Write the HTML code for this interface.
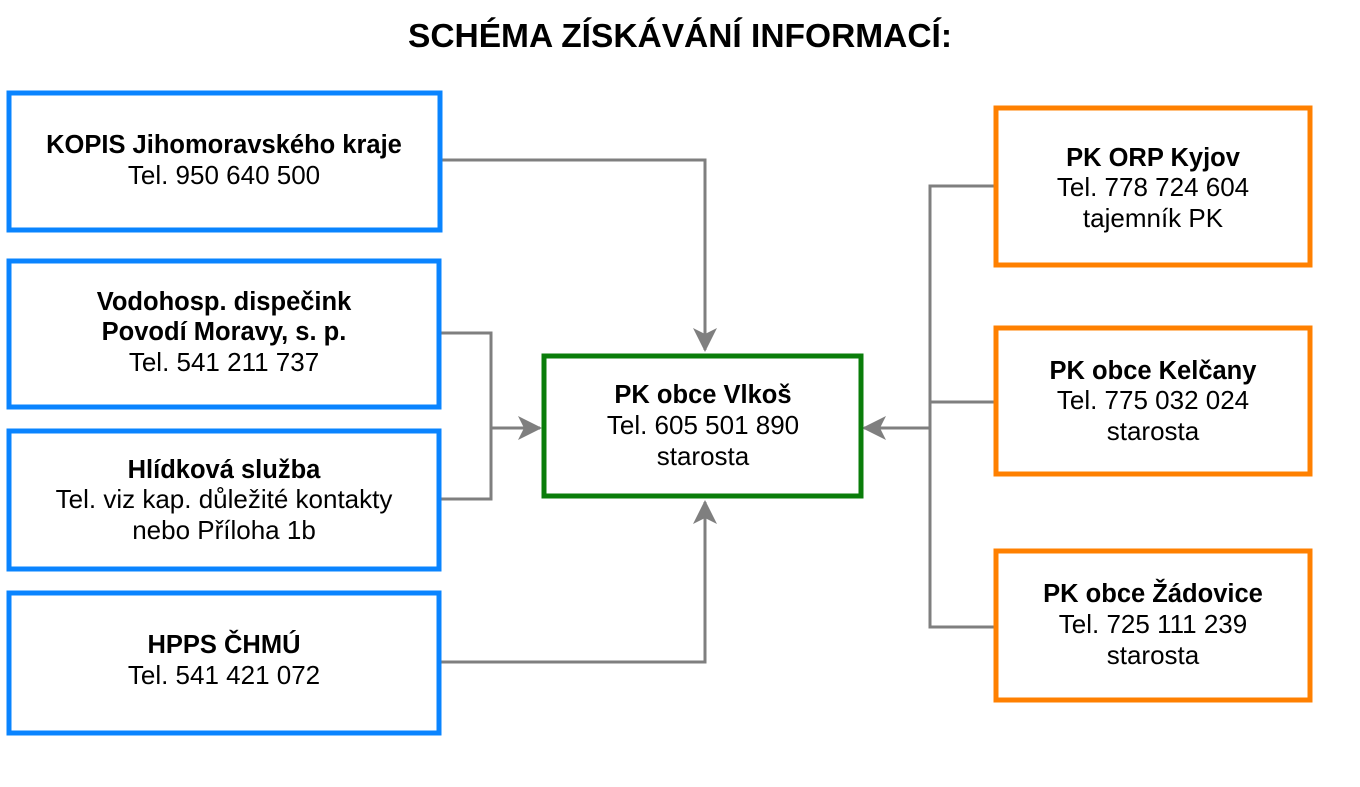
<!DOCTYPE html>
<html><head><meta charset="utf-8"><style>
html,body{margin:0;padding:0;background:#fff;width:1360px;height:787px;overflow:hidden}
svg text{font-family:"Liberation Sans",sans-serif;font-size:26px;fill:#000;text-anchor:middle}
.b{font-weight:bold;font-size:25.5px}
</style></head><body>
<svg width="1360" height="787" viewBox="0 0 1360 787" xmlns="http://www.w3.org/2000/svg">
<defs>
<marker id="ar" markerWidth="24" markerHeight="24" refX="22" refY="12" orient="auto" markerUnits="userSpaceOnUse"><path d="M0,0 L24,12 L0,24 L6,12 z" fill="#7f7f7f"/></marker></defs>
<text x="680" y="47" class="b" style="font-size:33.5px">SCHÉMA ZÍSKÁVÁNÍ INFORMACÍ:</text>
<g fill="none" stroke="#7f7f7f" stroke-width="3">
<path d="M441,160 H705 V350" marker-end="url(#ar)"/>
<path d="M441,333 H491 V499 H441"/>
<path d="M491,428 H540" marker-end="url(#ar)"/>
<path d="M441,662 H705 V502" marker-end="url(#ar)"/>
<path d="M995,186 H930 V627 H995"/>
<path d="M930,402 H995"/>
<path d="M930,428 H864" marker-end="url(#ar)"/>
</g>
<g fill="#fff" stroke="#0a84ff" stroke-width="5">
<rect x="9" y="93" width="431" height="137"/>
<rect x="9" y="261" width="430" height="146"/>
<rect x="9" y="431" width="430" height="138"/>
<rect x="9" y="593" width="430" height="140"/>
</g>
<rect x="544" y="356" width="317" height="140" fill="#fff" stroke="#0a7d0a" stroke-width="5"/>
<g fill="#fff" stroke="#ff8000" stroke-width="5">
<rect x="996" y="108" width="314" height="157"/>
<rect x="996" y="328" width="314" height="146"/>
<rect x="996" y="551" width="314" height="149"/>
</g>
<text x="224" y="153" class="b">KOPIS Jihomoravského kraje</text>
<text x="224" y="184">Tel. 950 640 500</text>
<text x="224" y="310" class="b">Vodohosp. dispečink</text>
<text x="224" y="340" class="b">Povodí Moravy, s. p.</text>
<text x="224" y="371">Tel. 541 211 737</text>
<text x="224" y="478" class="b">Hlídková služba</text>
<text x="224" y="508">Tel. viz kap. důležité kontakty</text>
<text x="224" y="539">nebo Příloha 1b</text>
<text x="224" y="653" class="b">HPPS ČHMÚ</text>
<text x="224" y="684">Tel. 541 421 072</text>
<text x="703" y="403" class="b">PK obce Vlkoš</text>
<text x="703" y="434">Tel. 605 501 890</text>
<text x="703" y="465">starosta</text>
<text x="1153" y="166" class="b">PK ORP Kyjov</text>
<text x="1153" y="196">Tel. 778 724 604</text>
<text x="1153" y="227">tajemník PK</text>
<text x="1153" y="379" class="b">PK obce Kelčany</text>
<text x="1153" y="409">Tel. 775 032 024</text>
<text x="1153" y="440">starosta</text>
<text x="1153" y="602" class="b">PK obce Žádovice</text>
<text x="1153" y="633">Tel.  725 111 239</text>
<text x="1153" y="664">starosta</text>
</svg>
</body></html>
